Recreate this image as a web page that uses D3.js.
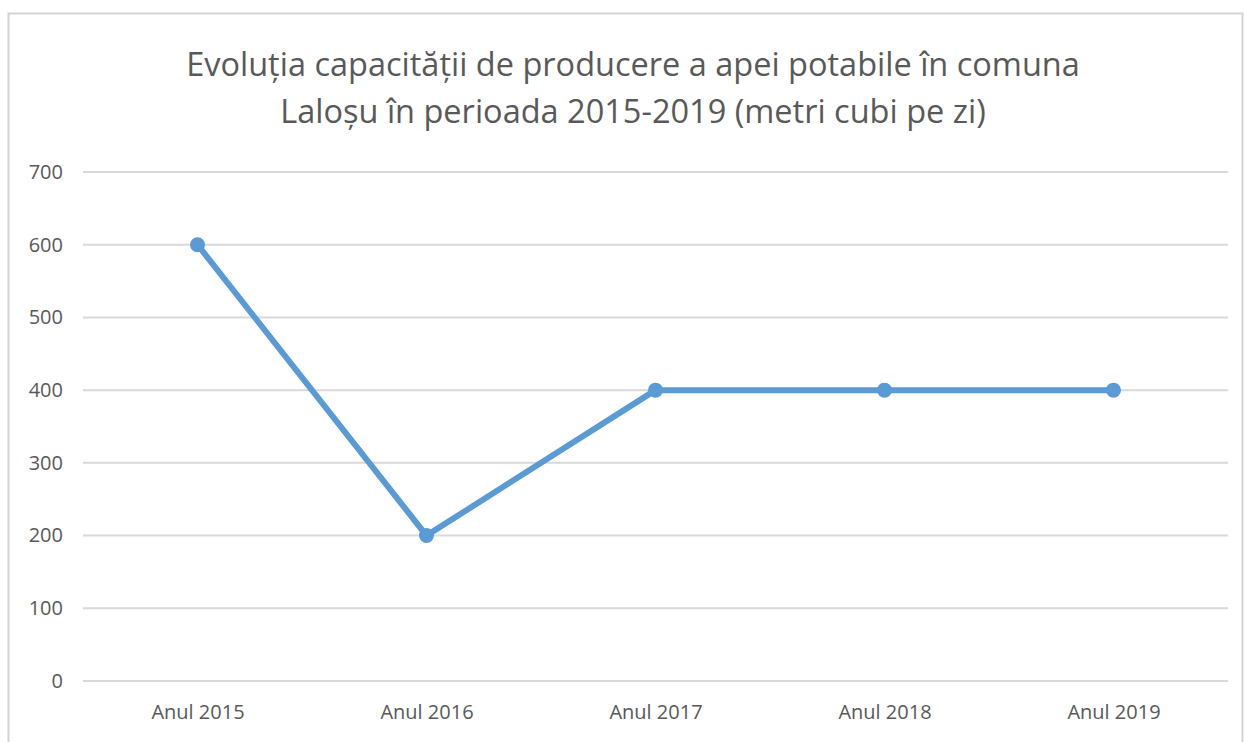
<!DOCTYPE html>
<html>
<head>
<meta charset="utf-8"/>
<style>
  body { margin: 0; background: #fff; }
  svg { display: block; font-family: "Open Sans", "Noto Sans", sans-serif; }
</style>
</head>
<body>
<svg id="chart"></svg>
<script src="https://d3js.org/d3.v7.min.js"></script>
<script>
// chart data
var categories = ['Anul 2015', 'Anul 2016', 'Anul 2017', 'Anul 2018', 'Anul 2019'];
var values = [600, 200, 400, 400, 400];
var yTicks = [0, 100, 200, 300, 400, 500, 600, 700];
var titleLines = ['Evoluția capacității de producere a apei potabile în comuna',
                  'Laloșu în perioada 2015-2019 (metri cubi pe zi)'];

var width = 1244, height = 742;
var margin = {top: 172, left: 83, right: 16, bottom: 61};

var svg = d3.select('#chart')
  .attr('width', width)
  .attr('height', height);

// chart frame
svg.append('rect')
  .attr('x', 8.5).attr('y', 13.5)
  .attr('width', 1234).attr('height', 740)
  .attr('fill', '#fff')
  .attr('stroke', '#d4d4d4')
  .attr('stroke-width', 2);

var x = d3.scalePoint()
  .domain(categories)
  .range([margin.left, width - margin.right])
  .padding(0.5);

var y = d3.scaleLinear()
  .domain([0, 700])
  .range([height - margin.bottom, margin.top]);

// gridlines
svg.append('g')
  .selectAll('line')
  .data(yTicks)
  .join('line')
  .attr('x1', margin.left)
  .attr('x2', width - margin.right)
  .attr('y1', function(d) { return y(d); })
  .attr('y2', function(d) { return y(d); })
  .attr('stroke', '#d9d9d9')
  .attr('stroke-width', 2);

// y axis labels
var yAxis = svg.append('g')
  .attr('transform', 'translate(' + (margin.left - 20) + ',0)')
  .call(d3.axisLeft(y).tickValues(yTicks).tickSize(0).tickPadding(0));
yAxis.select('.domain').remove();
yAxis.selectAll('text')
  .attr('fill', '#595959')
  .attr('font-size', 20)
  .attr('font-family', '"Open Sans", sans-serif');

// x axis labels
var xAxis = svg.append('g')
  .attr('transform', 'translate(0,' + (height - margin.bottom) + ')')
  .call(d3.axisBottom(x).tickSize(0).tickPadding(24));
xAxis.select('.domain').remove();
xAxis.selectAll('text')
  .attr('fill', '#595959')
  .attr('font-size', 20)
  .attr('font-family', '"Open Sans", sans-serif');

// line
var line = d3.line()
  .x(function(d, i) { return x(categories[i]); })
  .y(function(d) { return y(d); });

svg.append('path')
  .datum(values)
  .attr('d', line)
  .attr('fill', 'none')
  .attr('stroke', '#5b9bd5')
  .attr('stroke-width', 6)
  .attr('stroke-linejoin', 'round');

svg.append('g')
  .selectAll('circle')
  .data(values)
  .join('circle')
  .attr('cx', function(d, i) { return x(categories[i]); })
  .attr('cy', function(d) { return y(d); })
  .attr('r', 7.5)
  .attr('fill', '#5b9bd5');

// title
svg.append('g')
  .selectAll('text')
  .data(titleLines)
  .join('text')
  .attr('x', 633)
  .attr('y', function(d, i) { return 76 + i * 47; })
  .attr('text-anchor', 'middle')
  .attr('fill', '#595959')
  .attr('font-size', 32.5)
  .text(function(d) { return d; });
</script>
</body>
</html>
